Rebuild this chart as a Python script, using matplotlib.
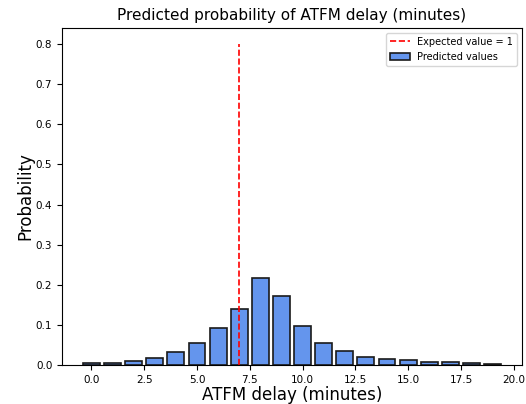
import matplotlib
matplotlib.use("Agg")
import matplotlib.pyplot as plt

# predicted probability per delay minute
minutes = list(range(20))
probs = [0.004, 0.004, 0.009, 0.018, 0.033, 0.054, 0.091, 0.140, 0.217, 0.173,
         0.097, 0.054, 0.036, 0.021, 0.015, 0.012, 0.007, 0.007, 0.004, 0.002]
expected_x = 7
line_top = 0.8

fig, ax = plt.subplots(figsize=(5.26, 4.04), dpi=100)
fig.subplots_adjust(left=62/526, right=522/526, top=1-28/404, bottom=1-365/404)

ax.vlines(expected_x, 0, line_top, colors='red', linestyles='--', linewidth=1.2,
          label='Expected value = 1')
ax.bar(minutes, probs, width=0.8, color='#6495ED', edgecolor='#1a1a1a',
       linewidth=1.2, label='Predicted values')

ax.set_title('Predicted probability of ATFM delay (minutes)', fontsize=11)
ax.set_xlabel('ATFM delay (minutes)', fontsize=12, labelpad=1)
ax.set_ylabel('Probability', fontsize=12, labelpad=1)
ax.tick_params(labelsize=7.5)
ax.legend(loc='upper right', fontsize=7)

plt.savefig('out.png', dpi=100)
